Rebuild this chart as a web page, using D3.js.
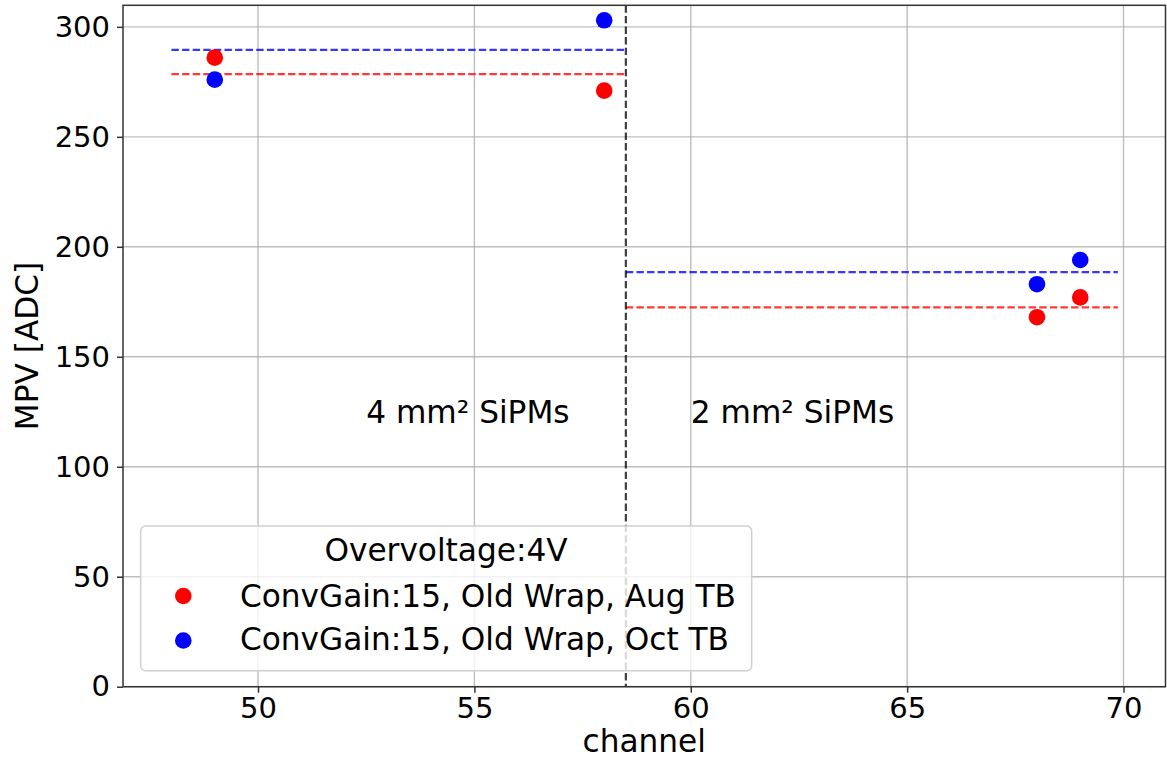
<!DOCTYPE html>
<html>
<head>
<meta charset="utf-8">
<script src="https://cdn.jsdelivr.net/npm/d3@7"></script>
<style>
  body { margin: 0; background: #fff; }
  svg { display: block; font-family: "DejaVu Sans", sans-serif; }
  .tick text { fill: #000; }
</style>
</head>
<body>
<svg id="chart" width="1167" height="759"></svg>
<script>
// data
const channels = [49, 58, 68, 69];
const augMPV = [286, 271, 168, 177];
const octMPV = [276, 303, 183, 194];
const groupSpans = [[48, 58.5], [58.5, 69.87]];   // x extent of the mean lines per SiPM group
const groupNames = ['4 mm\u00b2 SiPMs', '2 mm\u00b2 SiPMs'];
const groupLabelX = [52.5, 60];
const groupLabelY = 120;
const dividerX = 58.5;
const xTicks = [50, 55, 60, 65, 70];
const yTicks = [0, 50, 100, 150, 200, 250, 300];
const legendTitle = 'Overvoltage:4V';
const seriesNames = ['ConvGain:15, Old Wrap, Aug TB', 'ConvGain:15, Old Wrap, Oct TB'];
const seriesColors = ['#ff0000', '#0000ff'];

const pLeft = 123, pRight = 1165.5, pTop = 5.3, pBottom = 686.7;
const fs = 31.2;
const svg = d3.select('#chart');

const x = d3.scaleLinear().domain([46.88, 70.97]).range([pLeft, pRight]);
const y = d3.scaleLinear().domain([0, 309.8]).range([pBottom, pTop]);

// grid
const grid = svg.append('g');
grid.selectAll('line.gx').data(xTicks).enter().append('line')
  .attr('x1', d => x(d)).attr('x2', d => x(d))
  .attr('y1', pTop).attr('y2', pBottom)
  .attr('stroke', '#b0b0b0').attr('stroke-width', 1.4).attr('opacity', 0.8);
grid.selectAll('line.gy').data(yTicks).enter().append('line')
  .attr('x1', pLeft).attr('x2', pRight)
  .attr('y1', d => y(d)).attr('y2', d => y(d))
  .attr('stroke', '#b0b0b0').attr('stroke-width', 1.4).attr('opacity', 0.8);

// axes
const xAxis = svg.append('g')
  .attr('transform', `translate(0,${pBottom})`)
  .call(d3.axisBottom(x).tickValues(xTicks).tickSize(6).tickPadding(5));
const yAxis = svg.append('g')
  .attr('transform', `translate(${pLeft},0)`)
  .call(d3.axisLeft(y).tickValues(yTicks).tickSize(6).tickPadding(7));
[xAxis, yAxis].forEach(a => {
  a.select('.domain').remove();
  a.selectAll('.tick line').attr('stroke', '#333').attr('stroke-width', 1.5);
  a.selectAll('.tick text').attr('font-size', 29).attr('font-family', '"DejaVu Sans", sans-serif');
});

// mean lines per group
const series = [augMPV, octMPV];
series.forEach((vals, si) => {
  groupSpans.forEach(span => {
    const m = d3.mean(channels.filter(c => c >= span[0] && c <= span[1]).map(c => vals[channels.indexOf(c)]));
    svg.append('line')
      .attr('x1', x(span[0])).attr('x2', x(span[1]))
      .attr('y1', y(m)).attr('y2', y(m))
      .attr('stroke', seriesColors[si]).attr('stroke-width', 2.2)
      .attr('stroke-dasharray', '7.4 3.2').attr('opacity', 0.78);
  });
});

// divider
svg.append('line')
  .attr('x1', x(dividerX)).attr('x2', x(dividerX))
  .attr('y1', pTop).attr('y2', pBottom)
  .attr('stroke', '#000').attr('stroke-width', 2.2)
  .attr('stroke-dasharray', '7.4 3.2').attr('opacity', 0.75);

// points
series.forEach((vals, si) => {
  svg.append('g').selectAll('circle').data(channels).enter().append('circle')
    .attr('cx', d => x(d)).attr('cy', (d, i) => y(vals[i]))
    .attr('r', 8.3).attr('fill', seriesColors[si]);
});

// group labels
svg.selectAll('text.group').data(groupNames).enter().append('text')
  .attr('x', (d, i) => x(groupLabelX[i])).attr('y', y(groupLabelY))
  .attr('font-size', fs).attr('fill', '#000')
  .text(d => d);

// spines
svg.append('rect')
  .attr('x', pLeft).attr('y', pTop)
  .attr('width', pRight - pLeft).attr('height', pBottom - pTop)
  .attr('fill', 'none').attr('stroke', '#333').attr('stroke-width', 1.5);

// axis labels
svg.append('text')
  .attr('x', (pLeft + pRight) / 2).attr('y', 752)
  .attr('text-anchor', 'middle').attr('font-size', fs)
  .text('channel');
svg.append('text')
  .attr('transform', `translate(38,${(pTop + pBottom) / 2}) rotate(-90)`)
  .attr('text-anchor', 'middle').attr('font-size', fs)
  .text('MPV [ADC]');

// legend
const lg = svg.append('g');
lg.append('rect')
  .attr('x', 140.7).attr('y', 526).attr('width', 611).attr('height', 144.7)
  .attr('rx', 5).attr('fill', '#fff').attr('fill-opacity', 0.8)
  .attr('stroke', '#d0d0d0').attr('stroke-width', 1.5);
lg.append('text')
  .attr('x', 446).attr('y', 560.7).attr('text-anchor', 'middle')
  .attr('font-size', fs).text(legendTitle);
seriesNames.forEach((name, i) => {
  const cy = 596 + i * 44.5;
  lg.append('circle').attr('cx', 183.3).attr('cy', cy).attr('r', 8.3).attr('fill', seriesColors[i]);
  lg.append('text').attr('x', 240).attr('y', 607 + i * 42.5)
    .attr('font-size', fs).text(name);
});
</script>
</body>
</html>
